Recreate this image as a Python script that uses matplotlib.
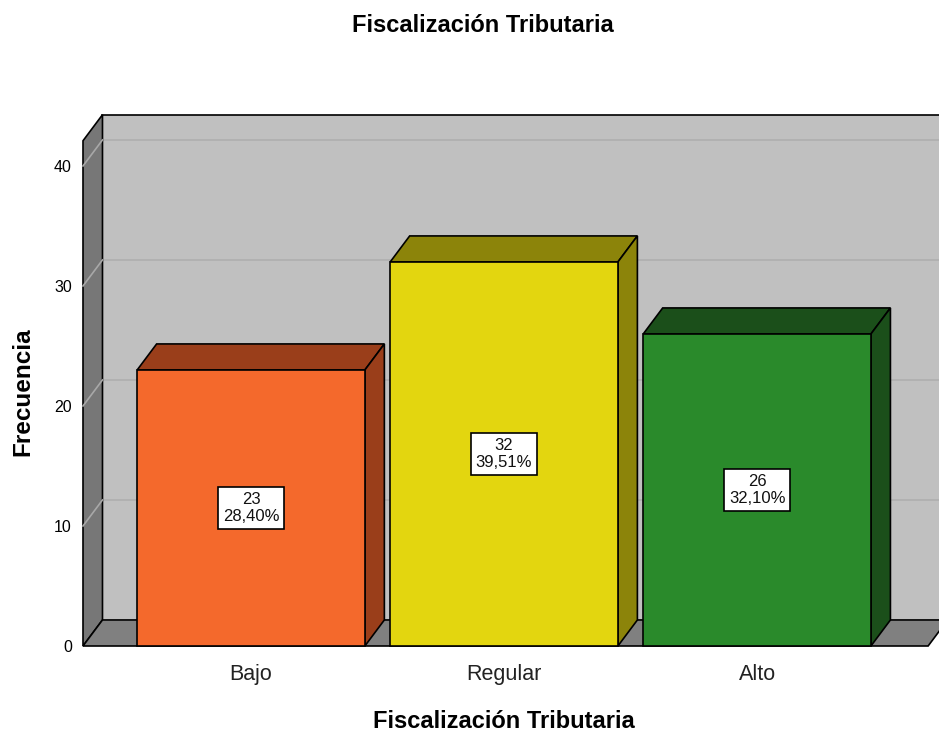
import numpy as np
import matplotlib.pyplot as plt
from matplotlib.patches import Polygon

categories = ['Bajo', 'Regular', 'Alto']
counts = [23, 32, 26]
percents = ['28,40%', '39,51%', '32,10%']
front_colors = ['#f4692c', '#e3d60f', '#2a8a2b']
shade_colors = ['#9a3e1a', '#8c840a', '#1b4f1a']
y_ticks = [0, 10, 20, 30, 40]

title = 'Fiscalización Tributaria'
x_label = 'Fiscalización Tributaria'
y_label = 'Frecuencia'


def main():
    plt.rcParams['font.family'] = ['Liberation Sans', 'DejaVu Sans']

    fig = plt.figure(figsize=(9.39, 7.36), dpi=100)
    ax = fig.add_axes([83 / 939, 90 / 736, 856 / 939, 532 / 736])

    xmin, xmax = -0.664, 2.719
    ymin, ymax = 0, 44.33
    ax.set_xlim(xmin, xmax)
    ax.set_ylim(ymin, ymax)

    # depth offset of the pseudo 3D box
    dx, dy = 0.077, 2.17
    wall_top = 42.1
    floor_end = 2.676
    width = 0.9

    # back wall
    ax.add_patch(Polygon([(xmin + dx, dy), (xmin + dx, wall_top + dy),
                          (floor_end + dx + 0.2, wall_top + dy), (floor_end + dx + 0.2, dy)],
                         closed=True, facecolor='#c0c0c0', edgecolor='none', zorder=1, clip_on=False))
    ax.plot([xmin + dx, floor_end + dx + 0.2], [wall_top + dy] * 2, color='black', lw=1.2,
            zorder=2, clip_on=False)
    # left wall
    ax.add_patch(Polygon([(xmin, 0), (xmin + dx, dy), (xmin + dx, wall_top + dy), (xmin, wall_top)],
                         closed=True, facecolor='#777777', edgecolor='black', lw=1.2, zorder=2,
                         clip_on=False))
    # gridlines
    for v in y_ticks[1:]:
        ax.plot([xmin + dx, floor_end + dx + 0.2], [v + dy] * 2, color='#aeaeae', lw=1.2,
                zorder=1.5, clip_on=False)
        ax.plot([xmin, xmin + dx], [v, v + dy], color='#a8a8a8', lw=1.2, zorder=2.5, clip_on=False)
    # floor
    ax.add_patch(Polygon([(xmin, 0), (xmin + dx, dy), (floor_end + dx, dy), (floor_end, 0)],
                         closed=True, facecolor='#808080', edgecolor='black', lw=1.2, zorder=3,
                         clip_on=False))

    x = np.arange(len(categories))
    ax.bar(x, counts, width=width, color=front_colors, edgecolor='black', linewidth=1.2,
           zorder=5, clip_on=False)
    for xi, v, sc, pc in zip(x, counts, shade_colors, percents):
        l, r = xi - width / 2, xi + width / 2
        ax.add_patch(Polygon([(l, v), (l + dx, v + dy), (r + dx, v + dy), (r, v)], closed=True,
                             facecolor=sc, edgecolor='black', lw=1.2, zorder=4, clip_on=False))
        ax.add_patch(Polygon([(r, 0), (r + dx, dy), (r + dx, v + dy), (r, v)], closed=True,
                             facecolor=sc, edgecolor='black', lw=1.2, zorder=4, clip_on=False))
        ax.text(xi, v / 2, '{}\n{}'.format(v, pc), ha='center', va='center', fontsize=12,
                linespacing=1.15, zorder=6, color='#111111',
                bbox=dict(boxstyle='square,pad=0.28', facecolor='white', edgecolor='black', lw=1.2))

    for s in ax.spines.values():
        s.set_visible(False)
    ax.set_facecolor('none')
    ax.set_yticks(y_ticks)
    ax.set_xticks(x)
    ax.set_xticklabels(categories, fontsize=15.5, color='#222222')
    ax.tick_params(axis='y', length=0, pad=8, labelsize=11.5)
    ax.tick_params(axis='x', length=0, pad=13)

    fig.text(482.5 / 939, 1 - 26 / 736, title, ha='center', va='center', fontsize=17,
             fontweight='bold')
    fig.text(503.5 / 939, 1 - 722 / 736, x_label, ha='center', va='center', fontsize=17,
             fontweight='bold')
    fig.text(23 / 939, 1 - 392 / 736, y_label, ha='center', va='center', rotation=90,
             fontsize=17.5, fontweight='bold')

    fig.savefig('out.png', dpi=100)


if __name__ == '__main__':
    main()
